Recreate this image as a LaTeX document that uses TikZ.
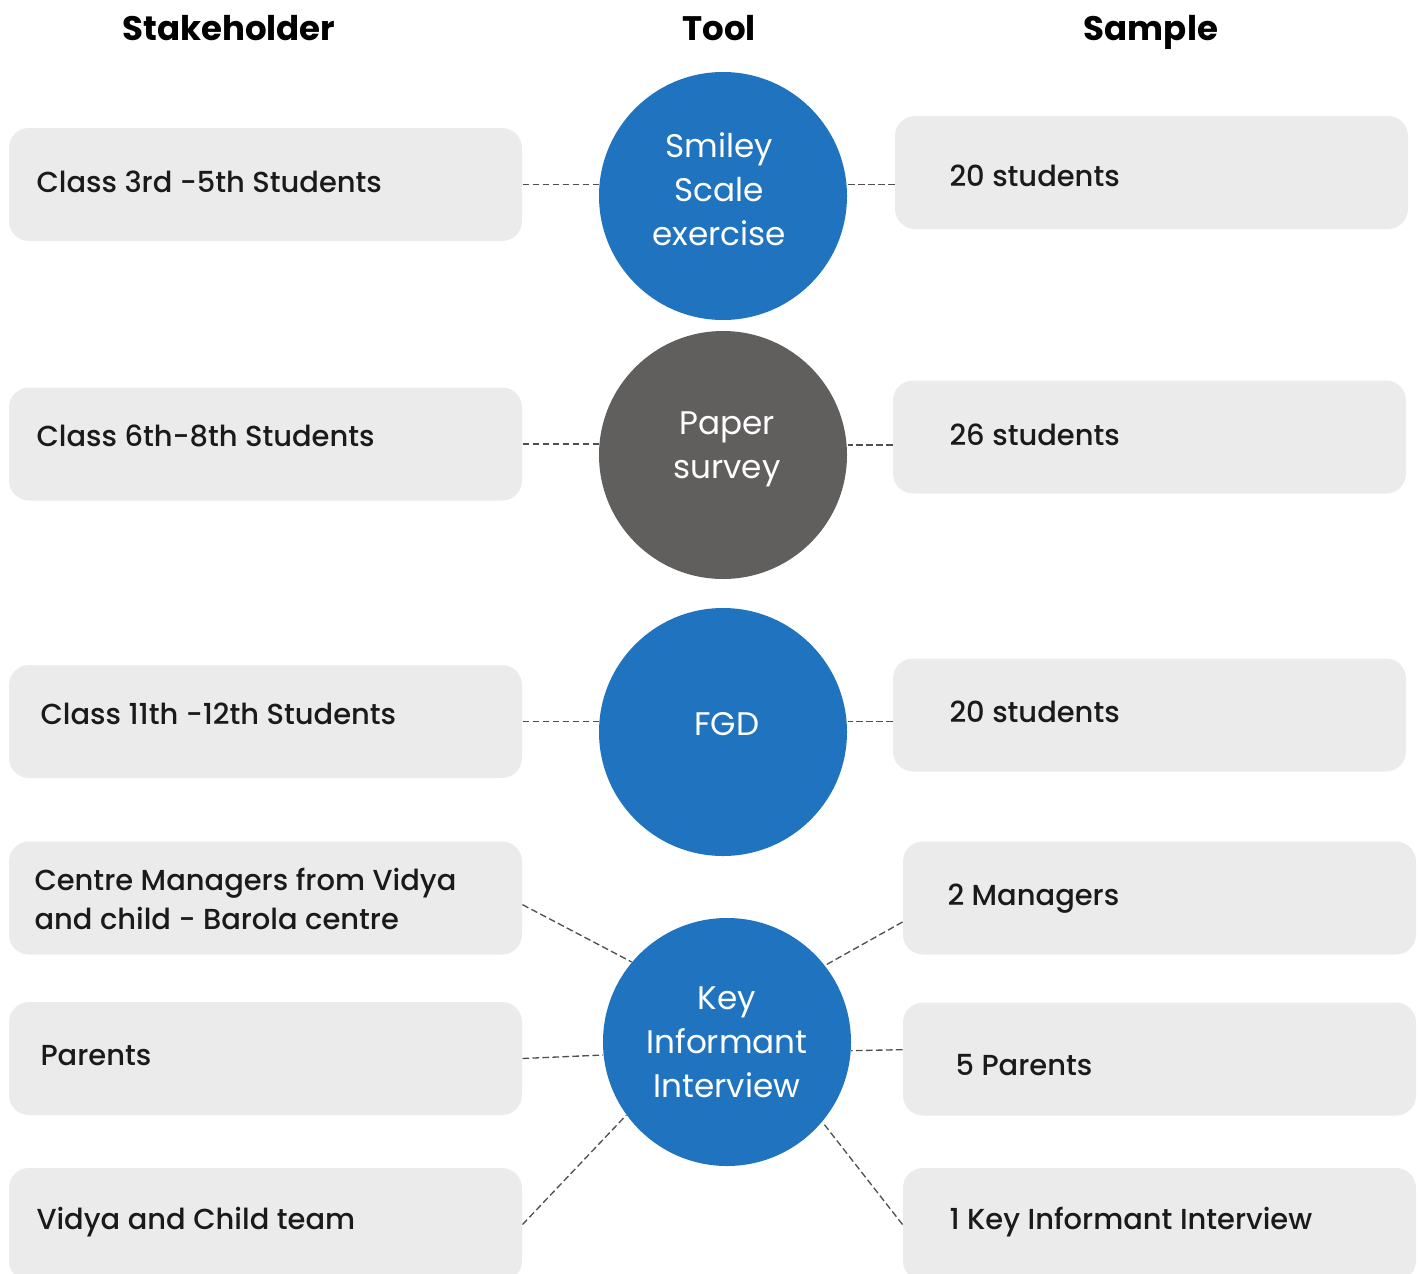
\documentclass[tikz,border=0pt]{standalone}
\usepackage{fontspec}
\setmainfont{Poppins Medium}[BoldFont={Poppins Bold}]
\newfontfamily\toolfont{Poppins}
\definecolor{boxgray}{HTML}{EBEBEB}
\definecolor{toolblue}{HTML}{1F73BF}
\definecolor{toolgray}{HTML}{615E5E}
\definecolor{linegray}{HTML}{4F4F4F}
\definecolor{inkgray}{HTML}{1A1A1A}

\tikzset{every picture/.style={line width=0.75pt}}
\tikzset{
  itembox/.style={fill=boxgray, rounded corners=15pt, minimum width=384.75pt, minimum height=84.75pt, inner sep=0pt},
  tool/.style={circle, fill=toolblue, minimum size=186pt, inner sep=0pt},
  tooltext/.style={inner sep=0pt, text=white, align=center, font=\toolfont\fontsize{24.5}{33}\selectfont},
  itemtext/.style={anchor=west, inner sep=0pt, text=inkgray, align=left, font=\fontsize{21.7}{29}\selectfont},
  head/.style={anchor=base, inner sep=0pt, font=\fontsize{25.5}{30}\selectfont\bfseries},
  link/.style={draw=linegray, dash pattern=on 5pt off 2.5pt, line width=1pt}
}

\begin{document}
\begin{tikzpicture}[x=0.75pt,y=0.75pt,yscale=-1,xscale=1]
\useasboundingbox (0,0) rectangle (1421,1274);

% Headers
\node [head] (hstake) at (229,40) {Stakeholder};
\node [head] (htool) at (719,40) {Tool};
\node [head] (hsample) at (1151,40) {Sample};

% Stakeholder boxes
\node [itembox] (lb1) at (265.5,184.5) {};
\node [itembox] (lb2) at (265.5,444) {};
\node [itembox] (lb3) at (265.5,721.5) {};
\node [itembox] (lb4) at (265.5,898) {};
\node [itembox] (lb5) at (265.5,1058.5) {};
\node [itembox] (lb6) at (265.5,1224.5) {};

% Sample boxes
\node [itembox] (rb1) at (1151.5,172.5) {};
\node [itembox] (rb2) at (1149.5,437) {};
\node [itembox] (rb3) at (1149.5,715) {};
\node [itembox] (rb4) at (1159.5,898) {};
\node [itembox] (rb5) at (1159.5,1059) {};
\node [itembox] (rb6) at (1159.5,1224.5) {};

% Text Node
\node [itemtext] (lt1) at (36,182) {Class 3rd -5th Students};
\node [itemtext] (lt2) at (36,436) {Class 6th-8th Students};
\node [itemtext] (lt3) at (40,714) {Class 11th -12th Students};
\node [itemtext] (lt4) at (34,899) {Centre Managers from Vidya\\and child - Barola centre};
\node [itemtext] (lt5) at (40,1056) {Parents};
\node [itemtext] (lt6) at (36,1222) {Vidya and Child team};

% Text Node
\node [itemtext] (rt1) at (949,176) {20 students};
\node [itemtext] (rt2) at (949,435) {26 students};
\node [itemtext] (rt3) at (949,712) {20 students};
\node [itemtext] (rt4) at (947,899) {2 Managers};
\node [itemtext] (rt5) at (955,1065) {5 Parents};
\node [itemtext] (rt6) at (949,1222) {1 Key Informant Interview};

% Tools
\node [tool] (t1) at (723,196) {};
\node [tool, fill=toolgray] (t2) at (723,455) {};
\node [tool] (t3) at (723,732) {};
\node [tool] (t4) at (727,1042) {};
\node [tooltext] (tt1) at (719,189) {Smiley\\Scale\\exercise};
\node [tooltext] (tt2) at (727,449) {Paper\\survey};
\node [tooltext] (tt3) at (727,724) {FGD};
\node [tooltext] (tt4) at (727,1042) {Key\\Informant\\Interview};

% Connection
\draw [link] (lb1.east) -- (lb1.east -| t1.west);
\draw [link] ([yshift=9pt]rb1.west) -- ([yshift=9pt]rb1.west -| t1.east);
\draw [link] (lb2.east) -- (lb2.east -| t2.west);
\draw [link] ([yshift=6pt]rb2.west) -- ([yshift=6pt]rb2.west -| t2.east);
\draw [link] (lb3.east) -- (lb3.east -| t3.west);
\draw [link] ([yshift=5pt]rb3.west) -- ([yshift=5pt]rb3.west -| t3.east);
% Connection
\draw [link] ([yshift=5pt]lb4.east) -- (t4.140);
\draw [link] ([yshift=18pt]rb4.west) -- (t4.38);
\draw [link] (lb5.east) -- (t4.186);
\draw [link] ([yshift=-7pt]rb5.west) -- (t4.356);
\draw [link] (lb6.east) -- (t4.216);
\draw [link] (rb6.west) -- (t4.320);

\end{tikzpicture}
\end{document}
